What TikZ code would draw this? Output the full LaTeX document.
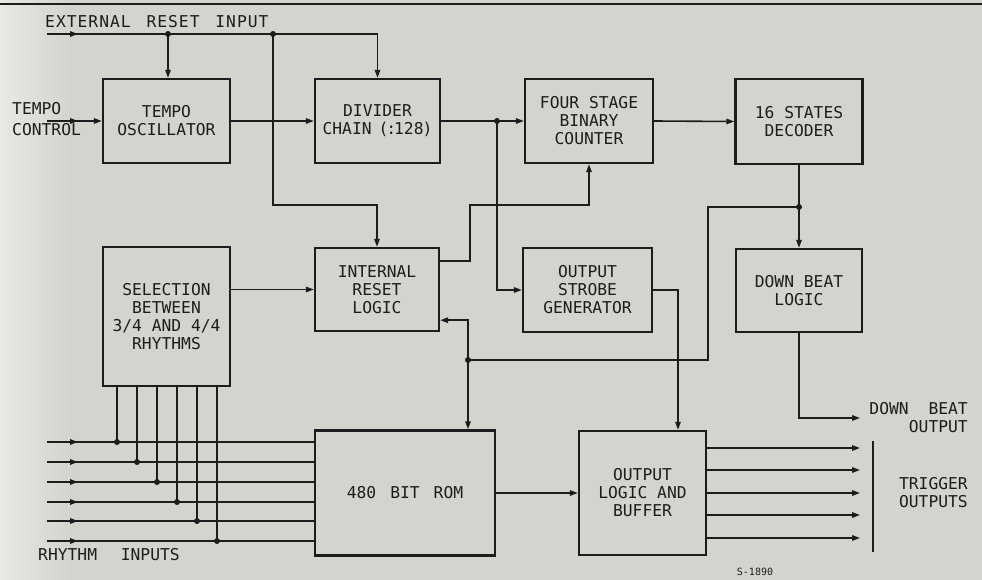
\documentclass[tikz,border=0pt]{standalone}
\usepackage{fontspec}
\setmonofont{DejaVu Sans Mono}
\usetikzlibrary{arrows.meta,decorations.markings,calc}
\definecolor{paper}{RGB}{212,212,206}
\definecolor{paperlight}{RGB}{232,232,228}
\definecolor{ink}{RGB}{28,28,28}
\newcommand\blkfont{\ttfamily\fontsize{16.3}{18}\selectfont}
\newcommand\smallfont{\ttfamily\fontsize{10}{12}\selectfont}
\tikzset{
  blk/.style={draw=ink, line width=2.4pt, align=center, font=\blkfont, text=ink, inner sep=0pt},
  wire/.style={draw=ink, line width=1.6pt},
  tip/.style={-{Triangle[length=8pt,width=5.5pt]}},
  midarrow/.style={postaction={decorate}, decoration={markings, mark=at position #1 with {\arrow{Triangle[length=8pt,width=5.5pt]}}}},
  dot/.style={circle, fill=ink, inner sep=0pt, minimum size=6pt},
  lbl/.style={font=\blkfont, inner sep=0pt, text=ink, align=left},
}
\begin{document}
\begin{tikzpicture}[x=1pt,y=-1pt]
\fill[paper] (0,0) rectangle (982,580);
\shade[left color=paperlight, right color=paper] (0,0) rectangle (70,580);
\useasboundingbox (0,0) rectangle (982,580);
\draw[ink, line width=1.2pt] (0,4) -- (982,4);

% blocks
\node[blk, minimum width=127pt, minimum height=84pt] (osc) at (166.5,121) {TEMPO\\OSCILLATOR};
\node[blk, minimum width=125pt, minimum height=84pt] (div) at (377.5,121) {DIVIDER\\CHAIN\kern-3pt{} (\kern-2pt:\kern-2pt128\kern-1pt)};
\node[blk, minimum width=128pt, minimum height=84pt] (cnt) at (589,121) {FOUR STAGE\\BINARY\\COUNTER};
\node[blk, minimum width=127pt, minimum height=85pt] (dec) at (799,121.5) {16 STATES\\DECODER};
\node[blk, minimum width=127pt, minimum height=139pt] (sel) at (166.5,316.5) {SELECTION\\BETWEEN\\3/4 AND 4/4\\RHYTHMS};
\node[blk, minimum width=124pt, minimum height=83pt] (irl) at (377,289.5) {INTERNAL\\RESET\\LOGIC};
\node[blk, minimum width=129pt, minimum height=84pt] (osg) at (587.5,290) {OUTPUT\\STROBE\\GENERATOR};
\node[blk, minimum width=126pt, minimum height=83pt] (dbl) at (799,290.5) {DOWN BEAT\\LOGIC};
\node[blk, minimum width=180pt, minimum height=125pt] (rom) at (405,493) {480\hspace{14pt}BIT\hspace{14pt}ROM};
\node[blk, minimum width=127pt, minimum height=124pt] (olb) at (642.5,493) {OUTPUT\\LOGIC AND\\BUFFER};

% labels
\node[lbl, anchor=west] (extl) at (45,22) {E\kern1pt X\kern1pt T\kern1pt E\kern1pt R\kern1pt N\kern1pt A\kern1pt L\hspace{6pt} R\kern1pt E\kern1pt S\kern1pt E\kern1pt T\hspace{6pt} I\kern1pt N\kern1pt P\kern1pt U\kern1pt T};
\node[lbl, anchor=west] (tmpl) at (12,109) {TEMPO};
\node[lbl, anchor=west] (ctrl) at (12,130) {CONTROL};
\node[lbl, anchor=west] (rinl) at (38,555) {RHYTHM\hspace{14pt} INPUTS};
\node[lbl, anchor=east] (dbol) at (968,409) {DOWN\hspace{10pt} BEAT};
\node[lbl, anchor=east] (dbo2) at (968,427) {OUTPUT};
\node[lbl, anchor=east] (trgl) at (968,484) {TRIGGER};
\node[lbl, anchor=east] (trg2) at (968,502) {OUTPUTS};
\node[font=\smallfont, text=ink, inner sep=0pt] (code) at (755,572) {S-1890};

% external reset
\coordinate (extS) at (47,34);
\coordinate (j1) at (168,34);
\coordinate (j2) at (273,34);
\coordinate (rstc) at (273,205);
\draw[wire, tip, midarrow=31pt] (extS) -| (div.north);
\draw[wire, tip] (j1) -- (j1 |- osc.north);
\draw[wire, tip] (j2) -- (rstc) -| (irl.north);
\node[dot] at (j1) {};
\node[dot] at (j2) {};

% tempo control
\coordinate (tcS) at (47,121);
\draw[wire, tip, midarrow=31pt] (tcS) -- (osc.west);
\draw[wire, tip] (osc.east) -- (div.west);
\draw[wire, tip] (div.east) -- (cnt.west);
\coordinate (j3) at (497,121);
\draw[wire, tip] (j3) |- (osg.west);
\node[dot] at (j3) {};
\draw[wire, tip] (cnt.east) -- (dec.west);

% internal reset -> counter
\coordinate (irlo) at ($(irl.north east)+(0,14)$);
\coordinate (c2) at (470,205);
\draw[wire, tip] (irlo) -| (c2) -| (cnt.south);

% selection -> internal reset
\draw[wire, tip] (sel.east |- irl.west) -- (irl.west);

% decoder -> down beat, feedback
\draw[wire, tip] (dec.south) -- (dbl.north);
\coordinate (j4) at (799,207);
\coordinate (c3) at (708,360);
\coordinate (j5) at (468,360);
\coordinate (irlin) at ($(irl.south east)+(0,-12)$);
\draw[wire] (j4) -| (c3) -- (j5);
\draw[wire, tip] (j5) |- (irlin);
\draw[wire, tip] (j5) -- (j5 |- rom.north);
\node[dot] at (j4) {};
\node[dot] at (j5) {};

% strobe -> output logic
\coordinate (olbin) at ($(olb.north)+(35.5,0)$);
\draw[wire, tip] (osg.east) -| (olbin);

% down beat output
\coordinate (dbo) at (860,418);
\draw[wire, tip] (dbl.south) |- (dbo);

% rom -> output logic
\draw[wire, tip] (rom.east) -- (olb.west);

% trigger outputs
\foreach \i/\y in {1/448,2/470,3/493,4/515,5/538}{
  \coordinate (t\i) at (860,\y);
  \draw[wire, tip] (olb.east |- t\i) -- (t\i);
}
\coordinate (brT) at (873,441);
\coordinate (brB) at (873,552);
\draw[wire] (brT) -- (brB);

% rhythm inputs
\foreach \i/\y/\x in {1/442/117,2/462/137,3/482/157,4/502/177,5/521/197,6/541/217}{
  \coordinate (r\i) at (47,\y);
  \coordinate (s\i) at (\x,\y);
  \draw[wire, midarrow=31pt] (r\i) -- (rom.west |- r\i);
  \draw[wire] (s\i |- sel.south) -- (s\i);
  \node[dot] at (s\i) {};
}
\end{tikzpicture}
\end{document}
